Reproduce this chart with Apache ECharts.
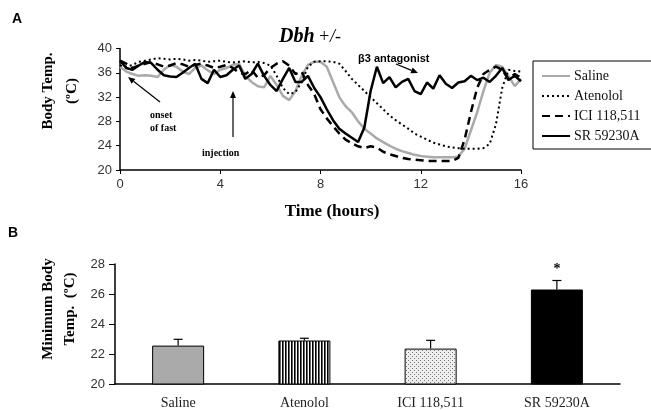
<!DOCTYPE html>
<html>
<head>
<meta charset="utf-8">
<script src="https://cdn.jsdelivr.net/npm/echarts@6/dist/echarts.min.js"></script>
<style>html,body{margin:0;padding:0;background:#fff}#chart{width:651px;height:410px}</style>
</head>
<body>
<div id="chart"></div>
<script>
// panel A: body temperature over time (hours)
const hours = [0, 0.25, 0.5, 0.75, 1, 1.25, 1.5, 1.75, 2, 2.25, 2.5, 2.75, 3, 3.25, 3.5, 3.75,
  4, 4.25, 4.5, 4.75, 5, 5.25, 5.5, 5.75, 6, 6.25, 6.5, 6.75, 7, 7.25, 7.5, 7.75,
  8, 8.25, 8.5, 8.75, 9, 9.25, 9.5, 9.75, 10, 10.25, 10.5, 10.75, 11, 11.25, 11.5, 11.75,
  12, 12.25, 12.5, 12.75, 13, 13.25, 13.5, 13.75, 14, 14.25, 14.5, 14.75, 15, 15.25, 15.5, 15.75, 16];

const saline = [37, 36.2, 35.8, 35.5, 35.6, 35.5, 35.3, 36.5, 37.3, 37, 36.2, 35.8, 36.8, 37.2, 36.4, 35.8,
  36.5, 36.8, 37.3, 37.5, 35.5, 34.5, 33.8, 33.6, 35.5, 34, 32.2, 31.5, 33, 35.5, 37.3, 37.8,
  37.8, 37, 34.5, 32, 30.5, 29.5, 28, 26.8, 26, 25.2, 24.6, 24, 23.5, 23.1, 22.8, 22.5,
  22.3, 22.2, 22.1, 22.1, 22.1, 22.1, 22.2, 23.5, 26.5, 29.5, 33, 36, 37.3, 37, 35.5, 33.8, 35];

const atenolol = [37.2, 37, 37.3, 37.8, 38, 38.2, 38.4, 38.3, 38.2, 38.3, 38.2, 38, 38.1, 38, 37.8, 37.9,
  38, 37.8, 37.7, 37.8, 37.9, 37.7, 37.8, 37.6, 37.2, 35.5, 33.5, 32.5, 32.8, 34.5, 37, 37.8,
  37.9, 37.9, 37.8, 37.5, 36.3, 35, 34, 33, 32, 31, 30, 29, 28.2, 27.5, 26.8, 26,
  25.5, 25, 24.5, 24.2, 23.9, 23.7, 23.6, 23.5, 23.5, 23.5, 23.6, 24.3, 27.5, 33.5, 36.5, 36.3, 36.2];

const ici = [38, 37.5, 36.8, 37.2, 37.5, 37.8, 37.4, 37, 37.2, 37.6, 37.4, 37, 37.3, 37.5, 37.2, 36.8,
  37, 37.3, 36.8, 36, 35.8, 36.5, 35.2, 35.6, 36.8, 37.5, 37.9, 37.2, 35.8, 36.2, 34, 32.5,
  30, 28.5, 27.2, 26, 25, 24.4, 23.9, 23.6, 23.9, 23.7, 23, 22.6, 22.3, 22, 21.8, 21.7,
  21.6, 21.5, 21.5, 21.5, 21.5, 21.5, 22, 25, 29.5, 33.5, 35.8, 36.5, 37, 36.5, 35, 35.8, 35.2];

const sr = [38, 36.8, 36.5, 37.2, 37.8, 37.6, 36.5, 35.6, 35.4, 35.3, 36, 36.8, 37.5, 35, 34.3, 36.5,
  35.3, 35.6, 36.5, 37.2, 35, 35.8, 37.5, 35.5, 34, 33, 35, 36.8, 34.5, 34.5, 35.5, 33.5,
  32, 30, 28.2, 26.8, 26, 25.3, 24.6, 27, 33, 37, 34.3, 35.3, 33.6, 34.5, 35, 33,
  32.5, 34.4, 33.4, 35.6, 34.2, 33.5, 34.4, 34.6, 35.5, 34.8, 35.2, 34.5, 35.5, 36.8, 34.8, 35.5, 34.6];

// panel B: minimum body temperature
const groups = ['Saline', 'Atenolol', 'ICI 118,511', 'SR 59230A'];
const minTemp = [22.56, 22.9, 22.36, 26.3];
const minTempErr = [0.42, 0.15, 0.55, 0.6];
const marks = ['', '', '', '*'];

const serif = 'Liberation Serif';
const sans = 'Liberation Sans';

function pattern(w, h, draw) {
  const c = document.createElement('canvas');
  c.width = w; c.height = h;
  draw(c.getContext('2d'));
  return { image: c, repeat: 'repeat' };
}
const stripes = pattern(3, 4, g => {
  g.fillStyle = '#fff'; g.fillRect(0, 0, 3, 4);
  g.fillStyle = '#000'; g.fillRect(0, 0, 1, 4);
  g.fillStyle = '#666'; g.fillRect(1, 0, 1, 4);
});
const stipple = pattern(4, 4, g => {
  g.fillStyle = '#eee'; g.fillRect(0, 0, 4, 4);
  g.fillStyle = '#777'; g.fillRect(0, 0, 1, 1); g.fillRect(2, 2, 1, 1);
});
const barFills = ['#aaaaaa', stripes, stipple, '#000'];

function arrow(x1, y1, x2, y2) {
  const a = Math.atan2(y2 - y1, x2 - x1), L = 7, w = 3;
  const bx = x2 - L * Math.cos(a), by = y2 - L * Math.sin(a);
  return [
    { type: 'line', shape: { x1: x1, y1: y1, x2: bx, y2: by }, style: { stroke: '#000', lineWidth: 1.2 } },
    { type: 'polygon', shape: { points: [[x2, y2], [bx + w * Math.sin(a), by - w * Math.cos(a)], [bx - w * Math.sin(a), by + w * Math.cos(a)]] }, style: { fill: '#000' } }
  ];
}

function line(arr) {
  return hours.map((h, i) => [h, arr[i]]);
}

const axisLine = { lineStyle: { color: '#000', width: 1.5 } };
const tickLabel = { color: '#333', fontFamily: sans, fontSize: 13 };

const option = {
  animation: false,
  grid: [
    { left: 120, top: 48.5, width: 401, height: 121.5 },
    { left: 115, top: 264, width: 505, height: 122 }
  ],
  xAxis: [
    {
      gridIndex: 0, type: 'value', min: 0, max: 16, interval: 4,
      axisLine: axisLine, axisTick: { show: true, length: 4, lineStyle: { color: '#000' } },
      axisLabel: Object.assign({ margin: 8 }, tickLabel), splitLine: { show: false }
    },
    {
      gridIndex: 1, type: 'category', data: groups,
      axisLine: axisLine, axisTick: { show: false },
      axisLabel: { color: '#222', fontFamily: serif, fontSize: 14, margin: 12 }
    }
  ],
  yAxis: [
    {
      gridIndex: 0, type: 'value', min: 20, max: 40, interval: 4,
      axisLine: Object.assign({ show: true }, axisLine), axisTick: { show: true, length: 4, lineStyle: { color: '#000' } },
      axisLabel: Object.assign({ margin: 8 }, tickLabel), splitLine: { show: false }
    },
    {
      gridIndex: 1, type: 'value', min: 20, max: 28, interval: 2,
      axisLine: Object.assign({ show: true }, axisLine), axisTick: { show: true, length: 6, lineStyle: { color: '#000' } },
      axisLabel: Object.assign({ margin: 10 }, tickLabel), splitLine: { show: false }
    }
  ],
  legend: {
    left: 533, top: 61, orient: 'vertical',
    padding: [8, 40, 6, 8], itemGap: 6, itemWidth: 28, itemHeight: 14,
    borderColor: '#000', borderWidth: 1,
    itemStyle: { opacity: 0 },
    textStyle: { fontFamily: serif, fontSize: 14, color: '#111', padding: [0, 0, 0, -1] },
    data: ['Saline', 'Atenolol', 'ICI 118,511', 'SR 59230A']
  },
  series: [
    { name: 'Saline', type: 'line', xAxisIndex: 0, yAxisIndex: 0, symbol: 'none', data: line(saline),
      lineStyle: { color: '#aaaaaa', width: 2.5 }, itemStyle: { color: '#aaaaaa' } },
    { name: 'Atenolol', type: 'line', xAxisIndex: 0, yAxisIndex: 0, symbol: 'none', data: line(atenolol),
      lineStyle: { color: '#000', width: 2, type: [2, 3] }, itemStyle: { color: '#000' } },
    { name: 'ICI 118,511', type: 'line', xAxisIndex: 0, yAxisIndex: 0, symbol: 'none', data: line(ici),
      lineStyle: { color: '#000', width: 2.5, type: [8, 5] }, itemStyle: { color: '#000' } },
    { name: 'SR 59230A', type: 'line', xAxisIndex: 0, yAxisIndex: 0, symbol: 'none', data: line(sr),
      lineStyle: { color: '#000', width: 2.5 }, itemStyle: { color: '#000' } },
    {
      type: 'bar', xAxisIndex: 1, yAxisIndex: 1, barWidth: 52,
      data: minTemp.map((v, i) => ({ value: v, itemStyle: { color: barFills[i], borderColor: '#000', borderWidth: 1 } }))
    },
    {
      type: 'custom', xAxisIndex: 1, yAxisIndex: 1,
      data: minTemp.map((v, i) => [i, v, minTempErr[i]]),
      renderItem: function (params, api) {
        const i = api.value(0), v = api.value(1), e = api.value(2);
        const base = api.coord([i, v]);
        const top = api.coord([i, v + e]);
        const kids = [
          { type: 'line', shape: { x1: base[0], y1: base[1], x2: top[0], y2: top[1] }, style: { stroke: '#000', lineWidth: 1.2 } },
          { type: 'line', shape: { x1: top[0] - 4.5, y1: top[1], x2: top[0] + 4.5, y2: top[1] }, style: { stroke: '#000', lineWidth: 1.2 } }
        ];
        if (marks[i]) {
          kids.push({ type: 'text', x: top[0], y: top[1] - 4, style: { text: marks[i], fontFamily: serif, fontWeight: 'bold', fontSize: 14, align: 'center', verticalAlign: 'bottom', fill: '#000' } });
        }
        return { type: 'group', children: kids };
      }
    }
  ],
  graphic: [
    { type: 'text', left: 12, top: 12, style: { text: 'A', fontFamily: sans, fontWeight: 'bold', fontSize: 14, fill: '#000' } },
    { type: 'text', left: 8, top: 226, style: { text: 'B', fontFamily: sans, fontWeight: 'bold', fontSize: 14, fill: '#000' } },
    { type: 'text', x: 279, y: 27, style: {
        text: '{a|Dbh} {b|+/-}',
        rich: {
          a: { fontFamily: serif, fontStyle: 'italic', fontWeight: 'bold', fontSize: 20, fill: '#000' },
          b: { fontFamily: serif, fontStyle: 'italic', fontSize: 18, fill: '#000' }
        } } },
    { type: 'text', x: 60, y: 91, rotation: Math.PI / 2, style: {
        text: 'Body Temp.\n(ºC)', fontFamily: serif, fontWeight: 'bold', fontSize: 15, lineHeight: 24,
        align: 'center', verticalAlign: 'middle', fill: '#000' } },
    { type: 'text', x: 332, y: 212, style: {
        text: 'Time (hours)', fontFamily: serif, fontWeight: 'bold', fontSize: 17,
        align: 'center', verticalAlign: 'middle', fill: '#000' } },
    { type: 'text', x: 59, y: 309, rotation: Math.PI / 2, style: {
        text: 'Minimum Body\nTemp.  (ºC)', fontFamily: serif, fontWeight: 'bold', fontSize: 15, lineHeight: 22,
        align: 'center', verticalAlign: 'middle', fill: '#000' } },
    { type: 'text', left: 150, top: 109, style: {
        text: 'onset\nof fast', fontFamily: serif, fontWeight: 'bold', fontSize: 10, lineHeight: 13, fill: '#000' } },
    { type: 'text', left: 202, top: 148, style: {
        text: 'injection', fontFamily: serif, fontWeight: 'bold', fontSize: 10, fill: '#000' } },
    { type: 'text', left: 358, top: 53, style: {
        text: 'β3 antagonist', fontFamily: sans, fontWeight: 'bold', fontSize: 11, fill: '#000' } }
  ].concat(arrow(160, 102, 128, 77), arrow(233, 137, 233, 91), arrow(396, 64, 418, 73))
};

const chart = echarts.init(document.getElementById('chart'));
chart.setOption(option);
</script>
</body>
</html>
